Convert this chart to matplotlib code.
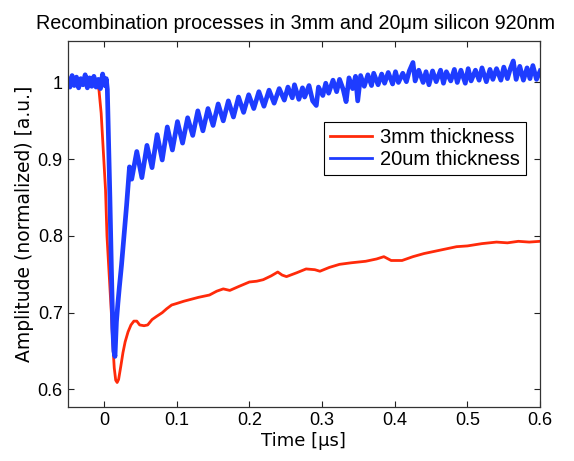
import matplotlib
matplotlib.use("Agg")
import matplotlib.pyplot as plt

# 3mm sample (red)
t_3mm = [-0.050, -0.030, -0.010, -0.007, -0.004, -0.001, 0.002, 0.004, 0.007,
         0.010, 0.012, 0.014, 0.016, 0.018, 0.020, 0.023, 0.026, 0.029, 0.033,
         0.037, 0.041, 0.045, 0.049, 0.055, 0.060, 0.066, 0.072, 0.080, 0.086,
         0.093, 0.100, 0.110, 0.122, 0.130, 0.145, 0.155, 0.164, 0.173, 0.185,
         0.200, 0.210, 0.219, 0.230, 0.239, 0.245, 0.251, 0.265, 0.278, 0.290,
         0.297, 0.310, 0.324, 0.340, 0.360, 0.375, 0.385, 0.395, 0.410, 0.425,
         0.440, 0.455, 0.470, 0.485, 0.500, 0.520, 0.540, 0.555, 0.570, 0.585,
         0.600]
a_3mm = [1.000, 1.000, 0.999, 0.990, 0.960, 0.910, 0.860, 0.800, 0.750,
         0.700, 0.660, 0.628, 0.612, 0.609, 0.613, 0.630, 0.648, 0.662, 0.675,
         0.684, 0.689, 0.689, 0.684, 0.683, 0.684, 0.691, 0.695, 0.700, 0.705,
         0.710, 0.712, 0.715, 0.718, 0.720, 0.723, 0.728, 0.731, 0.729, 0.734,
         0.740, 0.741, 0.743, 0.748, 0.753, 0.749, 0.747, 0.752, 0.757, 0.756,
         0.754, 0.759, 0.763, 0.765, 0.767, 0.770, 0.773, 0.768, 0.768, 0.773,
         0.777, 0.780, 0.783, 0.786, 0.787, 0.790, 0.792, 0.791, 0.793, 0.792,
         0.793]

# 20um sample (blue), noisy trace read point by point
t_20um = [-0.050, -0.047, -0.044, -0.041, -0.038, -0.035, -0.032, -0.029, -0.026,
          -0.023, -0.020, -0.017, -0.014, -0.011, -0.008, -0.005, -0.002, 0.001,
          0.003, 0.0045, 0.006, 0.008, 0.010, 0.012, 0.0135, 0.015, 0.017, 0.019,
          0.021, 0.024, 0.027, 0.029, 0.031, 0.033, 0.035,
          0.038, 0.045, 0.052, 0.059, 0.066, 0.073, 0.080, 0.087, 0.094, 0.101,
          0.108, 0.115, 0.122, 0.129, 0.136, 0.143, 0.150, 0.157, 0.164, 0.171,
          0.178, 0.185, 0.192, 0.199, 0.206, 0.213, 0.220, 0.227, 0.234, 0.241,
          0.248, 0.253, 0.259, 0.262, 0.268, 0.273, 0.276, 0.282, 0.287, 0.292,
          0.295, 0.301, 0.305, 0.309, 0.315, 0.320, 0.324, 0.329, 0.333, 0.337,
          0.342, 0.346, 0.349, 0.353, 0.358, 0.363, 0.368, 0.371, 0.377, 0.382,
          0.386, 0.391, 0.397, 0.401, 0.405, 0.411, 0.416, 0.420, 0.425, 0.428,
          0.433, 0.439, 0.443, 0.447, 0.452, 0.457, 0.463, 0.467, 0.471, 0.477,
          0.482, 0.486, 0.491, 0.497, 0.501, 0.505, 0.511, 0.516, 0.520, 0.526,
          0.531, 0.535, 0.540, 0.546, 0.550, 0.555, 0.559, 0.563, 0.567, 0.572,
          0.577, 0.582, 0.586, 0.590, 0.595, 0.600]
a_20um = [1.004, 0.994, 1.009, 0.996, 1.007, 0.993, 1.005, 0.997, 1.010,
          0.993, 1.006, 0.995, 1.008, 0.994, 1.004, 0.992, 1.011, 0.996,
          1.005, 0.991, 0.930, 0.850, 0.760, 0.680, 0.650, 0.643, 0.688, 0.712,
          0.733, 0.762, 0.795, 0.818, 0.840, 0.865, 0.890,
          0.874, 0.910, 0.876, 0.918, 0.889, 0.932, 0.899, 0.942, 0.912, 0.949,
          0.921, 0.954, 0.931, 0.963, 0.937, 0.966, 0.944, 0.972, 0.950, 0.976,
          0.955, 0.981, 0.961, 0.984, 0.966, 0.988, 0.969, 0.990, 0.973, 0.992,
          0.977, 0.994, 0.980, 0.997, 0.978, 0.993, 0.981, 0.996, 0.976, 0.970,
          0.994, 0.983, 0.999, 0.986, 1.003, 0.988, 1.004, 0.991, 0.975, 1.006,
          0.992, 1.008, 0.976, 1.009, 0.995, 1.010, 0.996, 1.012, 0.997, 1.011,
          0.999, 1.013, 0.998, 1.014, 1.000, 1.012, 1.001, 1.015, 1.026, 1.002,
          1.016, 1.000, 1.014, 0.997, 1.015, 1.001, 1.016, 0.999, 1.014, 1.002,
          1.017, 1.000, 1.016, 0.999, 1.018, 1.002, 1.016, 1.003, 1.019, 1.001,
          1.017, 1.004, 1.018, 1.003, 1.020, 1.005, 1.018, 1.028, 1.004, 1.021,
          1.003, 1.019, 1.005, 1.022, 1.004, 1.015]

x_ticks = [0, 0.1, 0.2, 0.3, 0.4, 0.5, 0.6]
x_labels = ["0", "0.1", "0.2", "0.3", "0.4", "0.5", "0.6"]
y_ticks = [0.6, 0.7, 0.8, 0.9, 1.0]
y_labels = ["0.6", "0.7", "0.8", "0.9", "1"]

plt.rcParams["font.family"] = ["Liberation Sans", "DejaVu Sans"]

fig = plt.figure(figsize=(5.74, 4.61), dpi=100)
ax = fig.add_axes([0.118, 0.117, 0.823, 0.794])

ax.plot(t_3mm, a_3mm, color="#ff2a0a", lw=2.0, label="3mm thickness")
ax.plot(t_20um, a_20um, color="#1e3cff", lw=3.4, label="20um thickness")

ax.set_xlim(-0.05, 0.6)
ax.set_ylim(0.577, 1.054)
ax.set_xticks(x_ticks)
ax.set_xticklabels(x_labels)
ax.set_yticks(y_ticks)
ax.set_yticklabels(y_labels)
ax.tick_params(direction="in", length=4, width=0.8, top=True, right=True,
               labelsize=13, colors="#222222", labelcolor="black")
for s in ax.spines.values():
    s.set_linewidth(0.9)
    s.set_color("#333333")

ax.set_title("Recombination processes in 3mm and 20\u03bcm silicon 920nm",
             fontsize=14.2, pad=9, x=0.482)
ax.set_xlabel("Time [\u03bcs]", family="DejaVu Sans", fontsize=13, labelpad=2)
ax.set_ylabel("Amplitude (normalized) [a.u.]", family="DejaVu Sans",
              fontsize=13.5, labelpad=3)

leg = ax.legend(loc="upper right", bbox_to_anchor=(0.970, 0.7795),
                borderaxespad=0, fontsize=14.5, fancybox=False, framealpha=1,
                handlelength=2.1, handletextpad=0.4, borderpad=0.3,
                labelspacing=0.15)
leg.get_frame().set_edgecolor("black")
leg.get_frame().set_linewidth(0.8)
for line in leg.get_lines():
    line.set_linewidth(2.0)

fig.savefig("out.png", dpi=100)
